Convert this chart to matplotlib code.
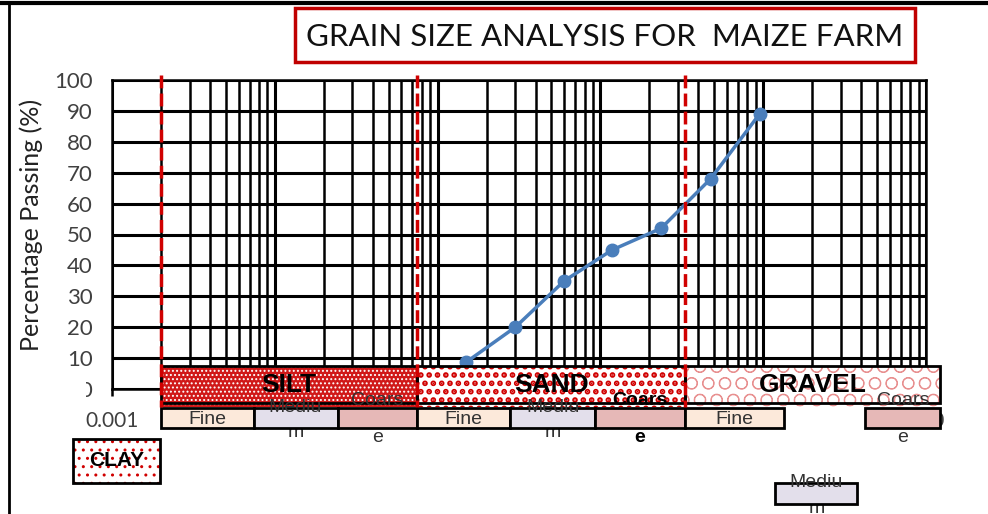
import numpy as np
import matplotlib.pyplot as plt
from matplotlib.patches import Rectangle
from matplotlib.lines import Line2D
from matplotlib.ticker import LogLocator, FixedLocator, FixedFormatter, NullFormatter

# Sieve analysis results (grain size in mm, % passing)
sieve_mm = [0.15, 0.3, 0.6, 1.18, 2.36, 4.75, 9.5]
passing = [8.7, 20, 35, 45, 52, 68, 89]

# Class boundaries drawn as dashed red lines (mm)
boundaries = [0.002, 0.075, 3.3]

x_ticks = [0.001, 0.01, 0.1, 1, 10, 100]
x_tick_labels = ["0.001", "0.01", "0.1", "1", "10", "100"]
y_ticks = list(range(0, 101, 10))

# Main soil classes
class_names = ["SILT", "SAND", "GRAVEL"]
class_lo = [0.002, 0.075, 3.3]
class_hi = [0.075, 3.3, 122]

# Sub classes
sub_names = ["Fine", "Medium", "Coarse"] * 3
sub_lo = [0.002, 0.0074, 0.0243, 0.075, 0.28, 0.93, 3.3, 11.9, 42.4]
sub_hi = [0.0074, 0.0243, 0.075, 0.28, 0.93, 3.3, 13.5, 37.9, 122]
sub_row = [0, 0, 0, 0, 0, 0, 0, 1, 0]
sub_bold = [False, False, False, False, False, True, False, False, False]

clay_lo, clay_hi = 0.00058, 0.00198

sub_colors = {"Fine": "#fce9da", "Medium": "#e3dfeb", "Coarse": "#e6b8b7"}
sub_lines = {"Fine": ["Fine"], "Medium": ["Mediu", "m"], "Coarse": ["Coars", "e"]}

fig = plt.figure(figsize=(9.88, 5.14), dpi=100)
ax = fig.add_axes([112 / 988, 1 - 389 / 514, 814 / 988, 309 / 514])
ax.set_xscale("log")
ax.set_xlim(0.001, 100)
ax.set_ylim(0, 100)
ax.set_axisbelow(True)

ax.xaxis.set_major_locator(FixedLocator(x_ticks))
ax.xaxis.set_major_formatter(FixedFormatter(x_tick_labels))
ax.xaxis.set_minor_locator(LogLocator(base=10, subs=np.arange(2, 10)))
ax.xaxis.set_minor_formatter(NullFormatter())
ax.set_yticks(y_ticks)

ax.grid(which="major", axis="both", color="black", lw=2.2)
ax.grid(which="minor", axis="x", color="black", lw=1.8)
for s in ax.spines.values():
    s.set_color("black")
    s.set_linewidth(1.8)

ax.tick_params(axis="y", length=0, pad=14, labelsize=16, labelcolor="#404040")
ax.tick_params(axis="x", which="major", length=5, width=1.8, pad=11,
               labelsize=15, labelcolor="#404040")
ax.tick_params(axis="x", which="minor", length=0)
for lab in ax.get_xticklabels() + ax.get_yticklabels():
    lab.set_family("Lato")

# data curve
ax.plot(sieve_mm, passing, color="#4a7ebb", lw=2.5, marker="o", ms=9, zorder=3)


def box(x0, x1, y0, y1, fc="none", ec="black", lw=2.0, hatch=None, z=5, hlw=None):
    r = Rectangle((x0, y0), x1 - x0, y1 - y0, facecolor=fc, edgecolor=ec,
                  lw=lw, hatch=hatch, zorder=z, clip_on=False)
    if hlw is not None and hasattr(r, "set_hatch_linewidth"):
        r.set_hatch_linewidth(hlw)
    ax.add_patch(r)
    return r


# white patch that hides part of the "0" tick label, as in the source chart
box(0.000555, 0.000697, -2.9, 2.9, fc="white", ec="white", lw=0, z=4)

# main class bands
band_top, band_bot, fill_bot = 7.4, -4.5, -5.7
band_style = [
    dict(fc="#d01818", ec="white", hatch="....", hlw=0.9),
    dict(fc="white", ec="#d00000", hatch="..", hlw=2.8),
    dict(fc="white", ec="#e89090", hatch="O", hlw=0.7),
]
for name, lo, hi, st in zip(class_names, class_lo, class_hi, band_style):
    box(lo, hi, fill_bot, band_top, fc=st["fc"], ec=st["ec"], lw=0,
        hatch=st["hatch"], z=6, hlw=st["hlw"])
    box(lo, hi, band_bot, band_top, z=6.5)
    ax.text(np.sqrt(lo * hi), 1.2, name, ha="center", va="center",
            fontsize=19, fontweight="bold", family="Liberation Sans", zorder=8)

# sub class boxes
row_y = [(-6.2, -12.6), (-30.4, -37.2)]
for name, lo, hi, row, bold in zip(sub_names, sub_lo, sub_hi, sub_row, sub_bold):
    y1, y0 = row_y[row]
    box(lo, hi, y0, y1, fc=sub_colors[name], z=5)
    xc = np.sqrt(lo * hi)
    lines = sub_lines[name]
    col = "black" if bold else "#333333"
    fw = "bold" if bold else "normal"
    if len(lines) == 1:
        ax.text(xc, (y0 + y1) / 2 - 0.6, lines[0], ha="center", va="center",
                fontsize=14, color=col, family="Liberation Sans", zorder=8)
    else:
        ax.text(xc, y1 + (2.6 if name == "Coarse" else 0.3), lines[0],
                ha="center", va="center", fontsize=14, color=col,
                fontweight=fw, family="Liberation Sans", zorder=8)
        ax.text(xc, y0 - (3.0 if name == "Coarse" else 1.6), lines[1],
                ha="center", va="center", fontsize=14, color=col,
                fontweight=fw, family="Liberation Sans",
                zorder=8 if name == "Coarse" else 4)

# clay box
box(clay_lo, clay_hi, -30.4, -16.2, fc="white", ec="#d00000", lw=0,
    hatch="..", z=5, hlw=1.0)
box(clay_lo, clay_hi, -30.4, -16.2, z=5.5)
ax.text(np.sqrt(clay_lo * clay_hi), -23.3, "CLAY", ha="center", va="center",
        fontsize=15, fontweight="bold", family="Liberation Sans", zorder=8)

# class boundaries
for b in boundaries:
    ax.plot([b, b], [101.6, -5.8], color="#d00000", lw=2.5,
            ls=(0, (3.7, 1.5)), clip_on=False, zorder=9)

# axis title
fig.text(31 / 988, 1 - 225 / 514, "Percentage Passing (%)", rotation=90,
         ha="center", va="center", fontsize=18, family="Lato", color="#222222")

# chart title in red box
fig.add_artist(Rectangle((295 / 988, 1 - 62 / 514), 620 / 988, 54 / 514,
                         transform=fig.transFigure, fill=False,
                         edgecolor="#c00000", lw=2.5))
fig.text(605 / 988, 1 - 37 / 514, "GRAIN SIZE ANALYSIS FOR  MAIZE FARM",
         ha="center", va="center", fontsize=22.5, family="Lato", color="#111111")

# outer frame lines
fig.add_artist(Line2D([0, 1], [1 - 3 / 514] * 2, transform=fig.transFigure,
                      color="black", lw=3))
fig.add_artist(Line2D([9 / 988] * 2, [0, 1 - 3 / 514], transform=fig.transFigure,
                      color="black", lw=2))

fig.savefig("out.png", dpi=100)
